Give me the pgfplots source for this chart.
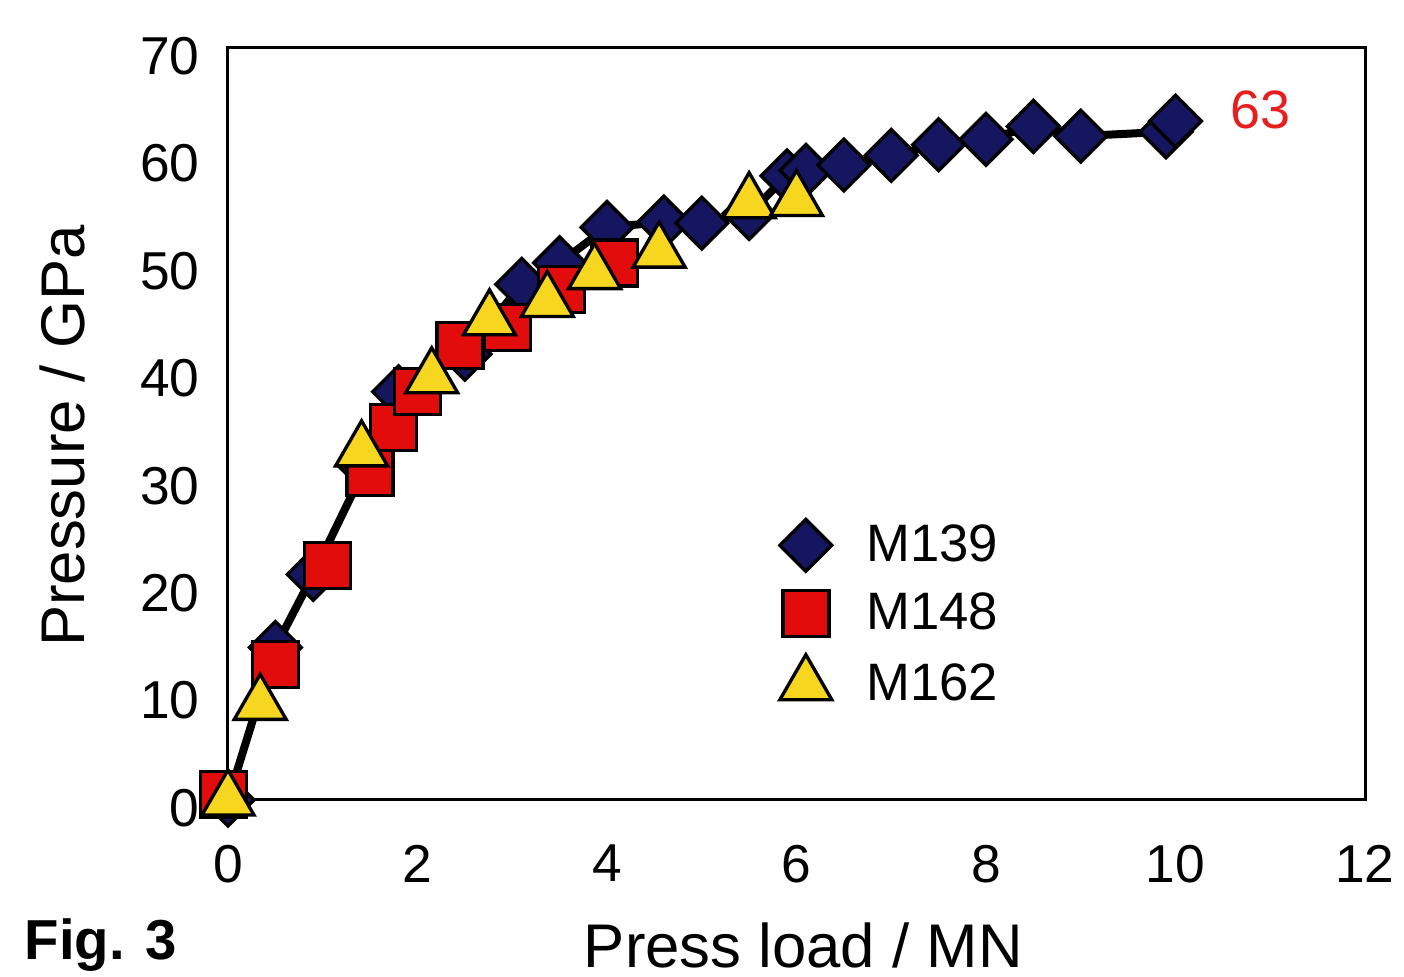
\documentclass[border=0pt]{standalone}
\usepackage{fontspec}
\setmainfont{Liberation Sans}
\usepackage{pgfplots}
\pgfplotsset{compat=1.18}
\definecolor{navy}{RGB}{22,22,96}
\definecolor{mred}{RGB}{226,12,12}
\definecolor{myel}{RGB}{246,214,30}
\definecolor{lred}{RGB}{230,30,30}
\pgfplotstableread{
x y
0 0
0.5 14.2
0.9 21
1.45 31
1.8 38
2.5 41.5
3.1 48
3.5 50
4.0 53.3
4.6 53.8
5.0 53.7
5.5 54.6
5.9 58.1
6.1 58.6
6.5 59.1
7.0 60
7.5 61
8.0 61.5
8.5 62.7
9.0 61.8
9.9 62.2
10.0 63.2
}\mOneThreeNine
\begin{document}
\begin{tikzpicture}
\begin{axis}[
  at={(0,0)}, anchor=south west,
  scale only axis,
  width=341.1pt, height=225.6pt,
  xmin=0, xmax=12, ymin=0, ymax=70,
  xtick={0,2,...,12}, ytick={0,10,...,70},
  major tick length=0pt,
  axis line style={line width=0.9pt},
  clip=false,
  /pgf/number format/assume math mode=true,
  ticklabel style={font=\fontsize{16}{18}\selectfont, text=black},
  xticklabel style={yshift=-10pt},
  yticklabel style={xshift=-5pt, yshift=-2.4pt},
  xlabel={Press load / MN},
  ylabel={Pressure / GPa},
  label style={font=\fontsize{18.5}{21}\selectfont, text=black},
  xlabel style={at={(axis description cs:0.506,0)}, anchor=center, yshift=-43.5pt},
  ylabel style={at={(axis description cs:-0.146,0.484)}, anchor=center},
  legend style={at={(axis description cs:0.476,0.385)}, anchor=north west,
    draw=none, fill=none, font=\fontsize{15.8}{18}\selectfont, row sep=4pt, column sep=8.4pt},
  legend cell align=left,
]
\addplot[black, line width=2.4pt, no marks, forget plot] table {\mOneThreeNine};
\addplot[only marks, mark=square*, mark size=5.5pt,
  mark options={rotate=45, fill=navy, draw=black, line width=1pt}]
  table {\mOneThreeNine};
\addlegendentry{M139}
\addplot[only marks, mark=square*, mark size=6.9pt,
  mark options={fill=mred, draw=black, line width=1pt}]
  coordinates {
  (-0.05,0.5) (0.5,12.6) (1.05,21.8) (1.5,30.5) (1.75,34.7) (2.0,38) (2.45,42.3)
  (2.95,44) (3.52,47.5) (4.08,50)
  };
\addlegendentry{M148}
\addplot[only marks, mark=triangle*, mark size=9pt,
  mark options={fill=myel, draw=black, line width=1pt}]
  coordinates {
  (0,0) (0.34,8.9) (1.41,32.5) (2.15,39.3) (2.76,44.7) (3.37,46.4) (3.87,49)
  (4.55,51) (5.5,55.6) (6.0,55.8)
  };
\addlegendentry{M162}
\node[text=lred, font=\fontsize{16.2}{19}\selectfont] at (axis cs:10.9,64.2) {63};
\node[font=\fontsize{16.9}{20}\selectfont\bfseries] at (axis description cs:0,0) [xshift=-38.1pt, yshift=-43.5pt] {Fig. 3};
\end{axis}
\pgfresetboundingbox
\path (-68.4pt,-53.1pt) rectangle (352.8pt,240pt);
\end{tikzpicture}
\end{document}
